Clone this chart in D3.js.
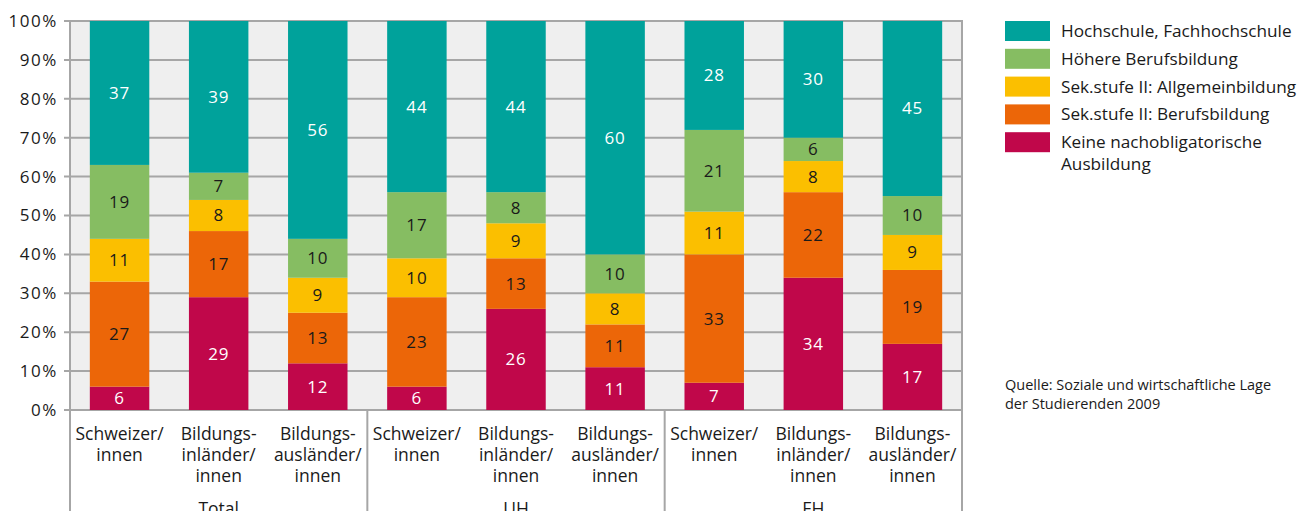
<!DOCTYPE html>
<html><head><meta charset="utf-8">
<script src="https://cdn.jsdelivr.net/npm/d3@7"></script>
<style>
body{margin:0;background:#fff;}
svg text{font-family:"Open Sans",sans-serif;}
</style></head>
<body><svg id="chart" width="1301" height="511"></svg>
<script>
const groups = ["Total", "UH", "FH"];
const subcats = [["Schweizer/","innen"],["Bildungs-","inländer/","innen"],["Bildungs-","ausländer/","innen"]];
const series = ["Keine nachobligatorische Ausbildung","Sek.stufe II: Berufsbildung","Sek.stufe II: Allgemeinbildung","Höhere Berufsbildung","Hochschule, Fachhochschule"];
const colors = ["#c0074a","#ec6608","#fbbf00","#86bd62","#00a29b"];
const labelColors = ["#fff","#1a1a1a","#1a1a1a","#1a1a1a","#fff"];
// values per bar (Total, UH, FH × Schweizer, Bildungsinländer, Bildungsausländer)
const keine      = [6, 29, 12, 6, 26, 11, 7, 34, 17];
const sekBeruf   = [27, 17, 13, 23, 13, 11, 33, 22, 19];
const sekAllg    = [11, 8, 9, 10, 9, 8, 11, 8, 9];
const hoehere    = [19, 7, 10, 17, 8, 10, 21, 6, 10];
const hochschule = [37, 39, 56, 44, 44, 60, 28, 30, 45];
const yTicks = [0,10,20,30,40,50,60,70,80,90,100];
const legendOrder = [4,3,2,1,0];

const svg = d3.select("#chart");
const L=70, R=962, T=21, B=410;
const bars = d3.range(9);
const data = bars.map(i=>[keine[i],sekBeruf[i],sekAllg[i],hoehere[i],hochschule[i]]);
const x = d3.scaleBand().domain(bars).range([L,R]).paddingInner(0.4).paddingOuter(0.2);
const y = d3.scaleLinear().domain([0,100]).range([B,T]);

svg.append("rect").attr("x",L).attr("y",T).attr("width",R-L).attr("height",B-T).attr("fill","#efefef");
// grid
svg.append("g").selectAll("line").data(yTicks).join("line")
  .attr("x1",L-6).attr("x2",R).attr("y1",d=>y(d)).attr("y2",d=>y(d))
  .attr("stroke","#a6a6a6").attr("stroke-width",2);
// y labels
svg.append("g").selectAll("text").data(yTicks).join("text")
  .attr("x",L-12).attr("y",d=>y(d)).attr("dy","0.35em").attr("text-anchor","end")
  .attr("font-size",17).attr("letter-spacing","1.6px").attr("fill","#1a1a1a").text(d=>d+"%");

// stacked bars
const stack = d3.stack().keys([0,1,2,3,4])(data);
stack.forEach((layer,k)=>{
  const g = svg.append("g");
  g.selectAll("rect").data(layer).join("rect")
    .attr("x",(d,i)=>x(i)).attr("width",x.bandwidth())
    .attr("y",d=>y(d[1])).attr("height",d=>y(d[0])-y(d[1]))
    .attr("fill",colors[k]);
  g.selectAll("text").data(layer).join("text")
    .attr("x",(d,i)=>x(i)+x.bandwidth()/2)
    .attr("y",d=>(y(d[0])+y(d[1]))/2).attr("dy","0.35em")
    .attr("text-anchor","middle").attr("font-size",17).attr("letter-spacing","0.8px").attr("fill",labelColors[k])
    .text(d=>d[1]-d[0]);
});

// axes / separators
svg.append("line").attr("x1",L).attr("x2",L).attr("y1",T).attr("y2",511).attr("stroke","#a6a6a6").attr("stroke-width",2);
svg.append("line").attr("x1",R).attr("x2",R).attr("y1",T-1).attr("y2",511).attr("stroke","#a6a6a6").attr("stroke-width",2);
const gw = (R-L)/3;
[1,2].forEach(j=>{
  svg.append("line").attr("x1",L+gw*j).attr("x2",L+gw*j).attr("y1",B).attr("y2",511).attr("stroke","#a6a6a6").attr("stroke-width",2);
});

// category labels
bars.forEach(i=>{
  const lines = subcats[i%3];
  const t = svg.append("text").attr("text-anchor","middle").attr("font-size",17.5).attr("fill","#1a1a1a");
  lines.forEach((s,j)=>{
    t.append("tspan").attr("x",x(i)+x.bandwidth()/2).attr("y",440+21*j).text(s);
  });
});
groups.forEach((g,j)=>{
  svg.append("text").attr("x",L+gw*j+gw/2).attr("y",515).attr("text-anchor","middle")
    .attr("font-size",17.5).attr("fill","#1a1a1a").text(g);
});

// legend
const lg = svg.append("g");
const legendText = [["Hochschule, Fachhochschule"],["Höhere Berufsbildung"],["Sek.stufe II: Allgemeinbildung"],["Sek.stufe II: Berufsbildung"],["Keine nachobligatorische","Ausbildung"]];
legendOrder.forEach((k,r)=>{
  const yy = 21 + r*27.8;
  lg.append("rect").attr("x",1005).attr("y",yy).attr("width",45).attr("height",20).attr("fill",colors[k]);
  const t = lg.append("text").attr("font-size",17.2).attr("fill","#1a1a1a");
  legendText[r].forEach((s,j)=>{
    t.append("tspan").attr("x",1061).attr("y",yy+16+22*j).text(s);
  });
});

// source
const src = svg.append("text").attr("font-size",14.5).attr("fill","#1a1a1a");
src.append("tspan").attr("x",1005).attr("y",390).text("Quelle: Soziale und wirtschaftliche Lage");
src.append("tspan").attr("x",1005).attr("y",409).text("der Studierenden 2009");
</script></body></html>
